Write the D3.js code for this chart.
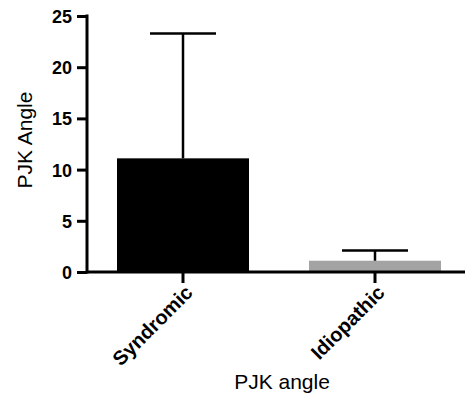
<!DOCTYPE html>
<html>
<head>
<meta charset="utf-8">
<script src="https://cdn.jsdelivr.net/npm/d3@7"></script>
<style>
  body { margin: 0; background: #fff; }
  svg { display: block; font-family: "Liberation Sans", Arial, sans-serif; }
</style>
</head>
<body>
<div id="plot"></div>
<script>
// data
var categories = ["Syndromic", "Idiopathic"];
var means = [11.1, 1.1];
var errors = [12.2, 1.0];
var barColors = ["#000000", "#a3a3a3"];
var yTicks = [0, 5, 10, 15, 20, 25];

var width = 465, height = 397;

var svg = d3.select("#plot")
  .append("svg")
  .attr("width", width)
  .attr("height", height);

// scales
var y = d3.scaleLinear()
  .domain([0, 25])
  .range([272, 16]);

var x = d3.scaleBand()
  .domain(categories)
  .range([87, 471])
  .paddingInner(0.3125)
  .paddingOuter(0.15625);

var data = categories.map(function(c, i) {
  return { name: c, mean: means[i], err: errors[i], color: barColors[i] };
});

// bars
svg.selectAll(".bar")
  .data(data)
  .join("rect")
  .attr("class", "bar")
  .attr("x", d => x(d.name))
  .attr("width", x.bandwidth())
  .attr("y", d => y(d.mean))
  .attr("height", d => y(0) - y(d.mean))
  .style("fill", d => d.color);

// error bars (upper only)
var capW = 66;
var err = svg.selectAll(".err")
  .data(data)
  .join("g")
  .attr("class", "err")
  .attr("transform", d => `translate(${x(d.name) + x.bandwidth() / 2},0)`);

err.append("line")
  .attr("x1", 0).attr("x2", 0)
  .attr("y1", d => y(d.mean))
  .attr("y2", d => y(d.mean + d.err))
  .style("stroke", "#000")
  .style("stroke-width", 2.5);

err.append("line")
  .attr("x1", -capW / 2).attr("x2", capW / 2)
  .attr("y1", d => y(d.mean + d.err))
  .attr("y2", d => y(d.mean + d.err))
  .style("stroke", "#000")
  .style("stroke-width", 2.5);

// y axis
var yAxis = svg.append("g")
  .attr("transform", "translate(87,0)")
  .call(d3.axisLeft(y).tickValues(yTicks).tickSize(10).tickPadding(5));

yAxis.select(".domain").remove();
yAxis.selectAll(".tick line").style("stroke", "#000").style("stroke-width", 3);
yAxis.selectAll(".tick text")
  .style("font-size", "18px")
  .style("font-weight", "bold")
  .style("font-family", "Liberation Sans, Arial, sans-serif")
  .attr("dy", "0.36em")
  .style("fill", "#000");

svg.append("line")
  .attr("x1", 87).attr("x2", 87)
  .attr("y1", y(25) - 1.5).attr("y2", y(0) + 1.5)
  .style("stroke", "#000")
  .style("stroke-width", 3);

// x axis
svg.append("line")
  .attr("x1", 87).attr("x2", width)
  .attr("y1", y(0)).attr("y2", y(0))
  .style("stroke", "#000")
  .style("stroke-width", 3);

var xTick = svg.selectAll(".xtick")
  .data(categories)
  .join("g")
  .attr("class", "xtick")
  .attr("transform", d => `translate(${x(d) + x.bandwidth() / 2},${y(0)})`);

xTick.append("line")
  .attr("y1", 0).attr("y2", 11)
  .style("stroke", "#000")
  .style("stroke-width", 3);

xTick.append("text")
  .attr("transform", "translate(6,17) rotate(-45)")
  .attr("text-anchor", "end")
  .attr("dy", "0.35em")
  .style("font-size", "20px")
  .style("font-weight", "bold")
  .text(d => d);

// axis titles
svg.append("text")
  .attr("transform", "translate(32,140) rotate(-90)")
  .attr("text-anchor", "middle")
  .style("font-size", "21px")
  .text("PJK Angle");

svg.append("text")
  .attr("x", 282)
  .attr("y", 389)
  .attr("text-anchor", "middle")
  .style("font-size", "21px")
  .text("PJK angle");
</script>
</body>
</html>
